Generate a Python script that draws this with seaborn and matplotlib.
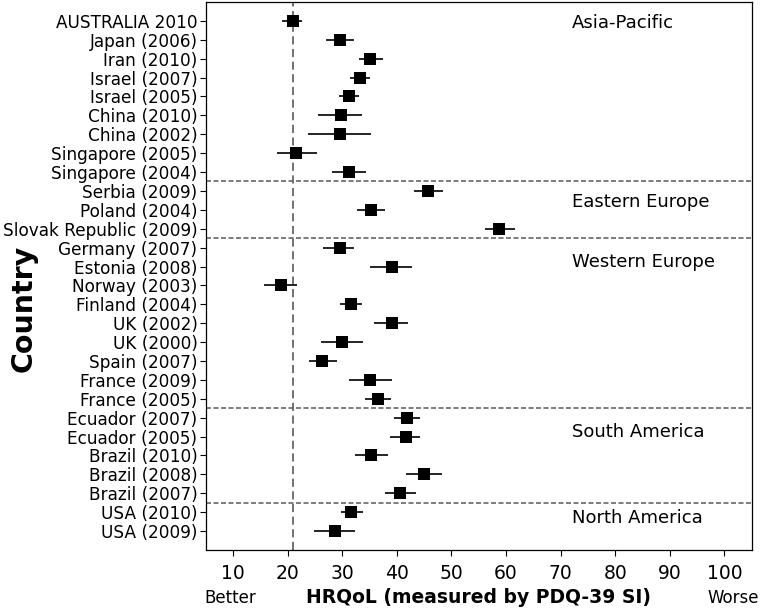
import matplotlib
matplotlib.use('Agg')
import numpy as np
import pandas as pd
import matplotlib.pyplot as plt
import seaborn as sns

# study labels, top to bottom
studies = [
    "AUSTRALIA 2010", "Japan (2006)", "Iran (2010)", "Israel (2007)", "Israel (2005)",
    "China (2010)", "China (2002)", "Singapore (2005)", "Singapore (2004)",
    "Serbia (2009)", "Poland (2004)", "Slovak Republic (2009)",
    "Germany (2007)", "Estonia (2008)", "Norway (2003)", "Finland (2004)", "UK (2002)",
    "UK (2000)", "Spain (2007)", "France (2009)", "France (2005)",
    "Ecuador (2007)", "Ecuador (2005)", "Brazil (2010)", "Brazil (2008)", "Brazil (2007)",
    "USA (2010)", "USA (2009)",
]
# mean PDQ-39 SI and confidence bounds
means = [20.9, 29.5, 35.1, 33.2, 31.2, 29.7, 29.5, 21.6, 31.2,
         45.8, 35.3, 58.8,
         29.5, 39.1, 18.7, 31.6, 39.1, 30.0, 26.3, 35.1, 36.5,
         41.8, 41.6, 35.3, 44.9, 40.6,
         31.6, 28.6]
lower = [18.9, 27.1, 33.0, 31.4, 29.4, 25.5, 23.7, 18.0, 28.1,
         43.1, 32.7, 56.2,
         26.5, 35.0, 15.7, 29.6, 35.8, 26.1, 24.0, 31.2, 34.1,
         39.4, 38.8, 32.4, 41.7, 37.8,
         29.7, 24.9]
upper = [22.7, 32.1, 37.4, 35.0, 33.1, 33.7, 35.2, 25.4, 34.4,
         48.5, 37.9, 61.6,
         32.2, 42.8, 21.7, 33.6, 42.0, 33.8, 29.0, 39.1, 39.0,
         44.2, 44.2, 38.4, 48.3, 43.5,
         33.8, 32.3]
regions = ["Asia-Pacific", "Eastern Europe", "Western Europe", "South America", "North America"]
region_sizes = [9, 3, 9, 5, 2]

df = pd.DataFrame({"study": studies, "mean": means, "lo": lower, "hi": upper})
df["pos"] = np.arange(len(df))

sns.set_style("ticks", {"axes.edgecolor": "black", "text.color": "black",
                        "xtick.color": "black", "ytick.color": "black",
                        "axes.labelcolor": "black"})
plt.rcParams['font.family'] = ['DejaVu Sans']

fig = plt.figure(figsize=(7.62, 6.13), dpi=100)
ax = fig.add_axes([0.270, 0.1028, 0.7165, 0.894])

ax.hlines(df["pos"], df["lo"], df["hi"], color="black", lw=1.2, zorder=2)
sns.scatterplot(data=df, x="mean", y="pos", marker="s", s=72, color="black",
                edgecolor="black", linewidth=0, ax=ax, zorder=3, legend=False)

# reference line at the Australian value
ax.axvline(means[0], color="#666666", lw=1.3, ls=(0, (4.5, 2.5)), zorder=1)

# region separators and labels
bounds = np.cumsum(region_sizes)
for b in bounds[:-1]:
    ax.axhline(b - 0.5, color="#666666", lw=1.2, ls=(0, (3, 1.5)), zorder=1)
label_rows = [0.1, 9.6, 12.75, 21.75, 26.3]
for name, r in zip(regions, label_rows):
    ax.text(72, r, name, fontsize=13, ha="left", va="center", color="black")

ax.set_xlim(5, 105)
ax.set_ylim(len(df), -1)
ax.set_xticks(np.arange(10, 101, 10))
ax.set_yticks(df["pos"])
ax.set_yticklabels(df["study"])
ax.tick_params(axis="y", labelsize=12.2, length=4, width=0.8, pad=2)
ax.tick_params(axis="x", labelsize=13.5, length=4, width=0.8, pad=6)
for sp in ax.spines.values():
    sp.set_visible(True)
    sp.set_linewidth(0.9)

ax.set_ylabel("")
ax.set_xlabel("HRQoL (measured by PDQ-39 SI)", fontsize=13.5, fontweight="bold")
ax.xaxis.set_label_coords(0.5, -0.0876)
ax.xaxis.label.set_va("center")
ax.text(9.4, -0.0876, "Better", transform=ax.get_xaxis_transform(),
        fontsize=12, ha="center", va="center", color="black")
ax.text(101.7, -0.0876, "Worse", transform=ax.get_xaxis_transform(),
        fontsize=12, ha="center", va="center", color="black")
fig.text(24 / 762, 1 - 308 / 613, "Country", rotation=90, fontsize=20.5,
         fontweight="bold", ha="center", va="center", color="black")

fig.savefig("out.png", dpi=100)
